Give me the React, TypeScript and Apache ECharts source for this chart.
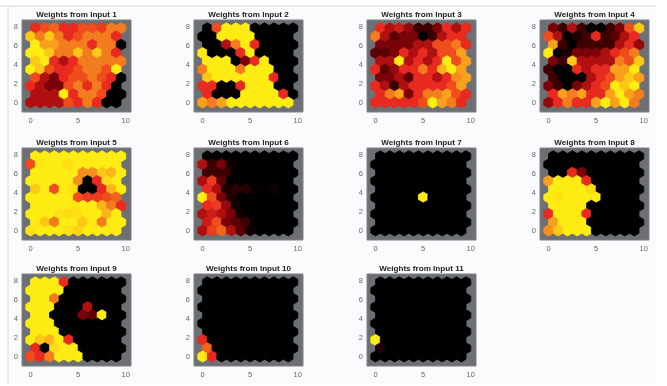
import React, { useEffect, useRef } from "react";
import * as echarts from "echarts";

const titles = ["Weights from Input 1","Weights from Input 2","Weights from Input 3","Weights from Input 4","Weights from Input 5","Weights from Input 6","Weights from Input 7","Weights from Input 8","Weights from Input 9","Weights from Input 10","Weights from Input 11"];
const xTicks = [0, 5, 10];
const yTicks = [0, 2, 4, 6, 8];
// colour scale, index = level 0..9
const levels = ["#000000","#3c0000","#7a0208","#b01010","#e82a20","#f04c1c","#f27c1e","#f9a01c","#fdc815","#ffec12"];

// each list: top row of the hexagon map first (row 9), down to row 0
const input1 = [
[4,5,5.5,4,4,5,5,4.5,6,6],
[8,6,8,6,4,5,6,6,6,4],
[9,7,7,6,6,6,4,6,6,0],
[9,9,8,6,6,8,6,8,6,4],
[8,9,4,3,4,6,6,6,6,6],
[9,8,5,4,4,5,6,6,5,9],
[5,3,2,4,5,5,6,5,4,0],
[4,3,2,2,5,6,4,6,4,0],
[3,3,3,9,4,6,6,5,0,0],
[3,3,3,3,5,4,6,4,0,0]];
const input2 = [
[0,5,9,9,9,0,0,0,0,0],
[0,0,9,9,9,9,0,0,0,0],
[0,0,3,6,9,4,0,0,0,0],
[9,0,0,0,4,9,0,0,0,0],
[9,9,9,0,2,4,9,0,0,0],
[6,9,9,9,6,9,9,9,0,0],
[8,9,9,9,9,9,9,4,0,0],
[4,4,0,0,4,9,9,9,0,0],
[4,0,0,0,9,9,9,9,4,0],
[7,6,7,9,9,9,9,9,9,9]];
const input3 = [
[4,3,3.5,2.5,1,1,2,4,3,4],
[6,3,1.5,2,2,0,1,3,4,4],
[2,2,2,2,3,3,5,5,6,4],
[1.5,1.5,2,4,3,4,3,5,5,7],
[3,3,9,3,4,3,4,9,5,7],
[4,1.5,2.5,4,4,6,4,7.5,9,7],
[2,2,3,1.5,4,4,3,4,6.5,7],
[4,3,1,3,4,4,4,4,5,7],
[4,6,7,2,4,6,6,7,5,4],
[4,4,4,4,4,5,9,7,6,4]];
const input4 = [
[2,1,3,1,0,0,1,2,5,8],
[5,3,0,0.5,1,4,1,1.5,3,4],
[7,1,0,1,1,1,1,3,4,2.5],
[9,0,0.5,2,2,2,3,4,5,6],
[2,1,8,3,3,3,3,6,5,8],
[1,0,0,4,3,4,4,7,7,9],
[1,0,0,0,3,4,5,7,8,7],
[2,1,0,2,3,4,5,9,8,9],
[4,7,6,7,4,4,7,9,7,6],
[2.5,4,6,4,4,7,9,7,9,6]];
const input5 = [
[9,9,9,9,9,9,9,9,9,9],
[5,8.8,9,9,8.6,9,9,9,9,9],
[9,9,9,9,9,6.5,6.5,8,7.5,9],
[9,9,9,9,9,6.5,0,4,8.5,9],
[8,9,5,9,8.6,0,0,4,7.5,9],
[9,9,9,9,9,5,4.5,4.5,5,5.5],
[9,9,9,9,8.8,9,9,7.5,6,4],
[9,9,9,8.7,8.5,8.7,9,9,7.5,9],
[9,8,6,9,9,8,9,6,9,9],
[8.7,9,9,9,8.7,8.3,9,9,9,9]];
const input6 = [
[0,0,0,0,0,0,0,0,0,0],
[3,1,2,0.3,0,0,0,0,0,0],
[1,1,1,0,0,0,0,0,0,0],
[3,4.5,1.5,0,0,0,0,0,0,0],
[4,3,0.5,0.7,0.7,0.1,0.1,0.3,0,0],
[9,5,2,0.5,0,0,0,0,0,0],
[4,4.5,2.5,0.3,0,0,0,0,0,0],
[3,3.5,3,2,0.3,0,0,0,0,0],
[3.5,5,2,1.5,1,0,0,0,0,0],
[3,4.5,5.5,3,1.5,0.3,0,0,0,0]];
const input7 = [
[0,0,0,0,0,0,0,0,0,0],
[0,0,0,0,0,0,0,0,0,0],
[0,0,0,0,0,0,0,0,0,0],
[0,0,0,0,0,0,0,0,0,0],
[0,0,0,0,0,0,0,0,0,0],
[0,0,0,0,0,9,0,0,0,0],
[0,0,0,0,0,0,0,0,0,0],
[0,0,0,0,0,0,0,0,0,0],
[0,0,0,0,0,0,0,0,0,0],
[0,0,0,0,0,0,0,0,0,0]];
const input8 = [
[0,0,0,0,0,0,0,0,0,0],
[0,0,0,0,0,0,0,0,0,0],
[0,0,4,2,0,0,0,0,0,0],
[7,9,9,9,4,0,0,0,0,0],
[9,9,9,9,8.5,0,0,0,0,0],
[9,8.7,9,9,9,9,0,0,0,0],
[9,9,9,9,0,0,0,0,0,0],
[4,9,9,9,4,0,0,0,0,0],
[7,9,9,9,0,0,0,0,0,0],
[6.5,8,9,9,9,0,0,0,0,0]];
const input9 = [
[9,9,9,4,0,0,0,0,0,0],
[9,9,9,9,0,0,0,0,0,0],
[9,9,6,0,0,0,0,0,0,0],
[9,9,9,0,0,0,3,0,0,0],
[9,9,0,0,0,2,1.5,9,0,0],
[9,9,9,0,0,0,0,0,0,0],
[9,9,9,0,0,0,0,0,0,0],
[9,8,7.5,9,4,0,0,0,0,0],
[4,0,8.5,9,9,0,0,0,0,0],
[5,4,6,9,9,9,0,0,0,0]];
const input10 = [
[0,0,0,0,0,0,0,0,0,0],
[0,0,0,0,0,0,0,0,0,0],
[0,0,0,0,0,0,0,0,0,0],
[0,0,0,0,0,0,0,0,0,0],
[0,0,0,0,0,0,0,0,0,0],
[0,0,0,0,0,0,0,0,0,0],
[0,0,0,0,0,0,0,0,0,0],
[4,0,0,0,0,0,0,0,0,0],
[5.5,0,0,0,0,0,0,0,0,0],
[9,4,0,0,0,0,0,0,0,0]];
const input11 = [
[0,0,0,0,0,0,0,0,0,0],
[0,0,0,0,0,0,0,0,0,0],
[0,0,0,0,0,0,0,0,0,0],
[0,0,0,0,0,0,0,0,0,0],
[0,0,0,0,0,0,0,0,0,0],
[0,0,0,0,0,0,0,0,0,0],
[0,0,0,0,0,0,0,0,0,0],
[9,0,0,0,0,0,0,0,0,0],
[0.5,0,0,0,0,0,0,0,0,0],
[0,0,0,0,0,0,0,0,0,0]];
const inputs = [input1,input2,input3,input4,input5,input6,input7,input8,input9,input10,input11];

const panelLefts = [22, 194, 367, 540];
const panelTops = [20, 148, 274];
const panelW = 109;
const panelH = 92;
const ROW = Math.sqrt(3) / 2;
const R = 1 / Math.sqrt(3);

function colorOf(v: number) {
  const lo = Math.floor(v);
  const hi = Math.min(9, lo + 1);
  const f = v - lo;
  const a = echarts.color.parse(levels[lo]);
  const b = echarts.color.parse(levels[hi]);
  const m = [0, 1, 2].map((i) => Math.round(a[i] + (b[i] - a[i]) * f));
  return `rgb(${m[0]},${m[1]},${m[2]})`;
}

function hexData(rows: number[][]) {
  const out: number[][] = [];
  rows.forEach((vals, i) => {
    const r = rows.length - 1 - i;
    vals.forEach((v, c) => out.push([c + (r % 2 ? 0.5 : 0), r * ROW, v]));
  });
  return out;
}

function renderHex(_: any, api: any) {
  const x = api.value(0), y = api.value(1);
  const pts = [[0,R],[0.5,R/2],[0.5,-R/2],[0,-R],[-0.5,-R/2],[-0.5,R/2]].map((d) => api.coord([x + d[0], y + d[1]]));
  const col = colorOf(api.value(2));
  return { type: "polygon", shape: { points: pts }, style: { fill: col, stroke: col, lineWidth: 0.8 } };
}

export default function App() {
  const ref = useRef<HTMLDivElement>(null);
  useEffect(() => {
    const chart = echarts.init(ref.current!, null, { renderer: "svg" });
    const pos = inputs.map((_, i) => ({ left: panelLefts[i % 4], top: panelTops[Math.floor(i / 4)] }));
    chart.setOption({
      animation: false,
      backgroundColor: "#ffffff",
      title: pos.map((p, i) => ({
        text: titles[i], left: p.left + panelW / 2, top: p.top - 10, textAlign: "center", padding: 0,
        textStyle: { fontFamily: "Liberation Sans", fontSize: 8.1, fontWeight: "bold", color: "#222", lineHeight: 8 },
      })),
      grid: pos.map((p) => ({
        left: p.left, top: p.top, width: panelW, height: panelH, show: true,
        backgroundColor: "#6c7074", borderColor: "#7c8084", borderWidth: 1, containLabel: false,
      })),
      xAxis: pos.map((_, i) => ({
        type: "value", gridIndex: i, min: -0.9, max: 10.55, position: "bottom",
        axisLine: { show: false }, axisTick: { show: false }, splitLine: { show: false },
        axisLabel: { customValues: xTicks, color: "#666", fontSize: 7.5, margin: 4, fontFamily: "Liberation Sans" },
      })),
      yAxis: pos.map((_, i) => ({
        type: "value", gridIndex: i, min: -1, max: 8.66, position: "left",
        axisLine: { show: false }, axisTick: { show: false }, splitLine: { show: false },
        axisLabel: { customValues: yTicks, color: "#666", fontSize: 7.5, margin: 4, fontFamily: "Liberation Sans" },
      })),
      series: inputs.map((rows, i) => ({
        type: "custom", xAxisIndex: i, yAxisIndex: i, silent: true, clip: true,
        encode: { x: 0, y: 1 }, data: hexData(rows), renderItem: renderHex,
      })),
      graphic: [
        { type: "rect", silent: true, z: -2, shape: { x: 8, y: 5, width: 648, height: 379 }, style: { fill: "#f9fbfd" } },
        { type: "rect", silent: true, z: -1, shape: { x: 0, y: 5, width: 656, height: 2 }, style: { fill: "#e8eaec" } },
        { type: "rect", silent: true, z: -1, shape: { x: 7, y: 5, width: 2, height: 379 }, style: { fill: "#e8eaec" } },
      ],
    });
    return () => chart.dispose();
  }, []);
  return <div ref={ref} style={{ position: "absolute", left: 0, top: 0, width: 667, height: 386, filter: "blur(0.5px)" }} />;
}
